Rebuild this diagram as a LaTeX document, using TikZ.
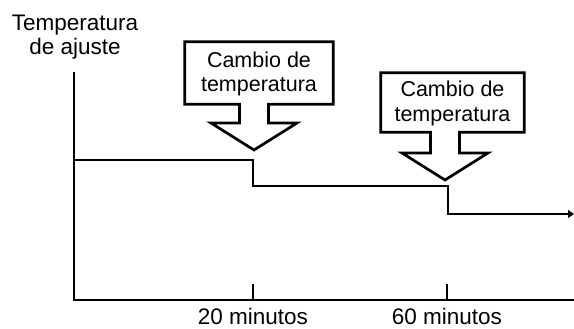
\documentclass[tikz,border=0pt]{standalone}
\usepackage{fontspec}
\setmainfont{Liberation Sans}
\usepackage{tikz}
\usetikzlibrary{positioning,arrows.meta,calc}
% box with a broad arrow below it: #1 box node, #2 tip
\newcommand{\callout}[2]{%
	\path ($(#2)+(-14.5pt,27pt)$) coordinate (#1-sl)
		($(#2)+(14.5pt,27pt)$) coordinate (#1-sr)
		($(#2)+(-43pt,27pt)$) coordinate (#1-hl)
		($(#2)+(43pt,27pt)$) coordinate (#1-hr);
	\draw[callline] (#1.south west) -- (#1.north west) -- (#1.north east)
		-- (#1.south east) -- (#1.south east -| #1-sr) -- (#1-sr) -- (#1-hr)
		-- (#2) -- (#1-hl) -- (#1-sl) -- (#1.south west -| #1-sl) -- cycle;
}

\begin{document}
\begin{tikzpicture}[
		x=1pt, y=1pt,
		font=\fontsize{22.5}{24}\selectfont,
		lbl/.style={align=center, inner sep=0pt},
		box/.style={inner sep=0pt},
		boxtext/.style={align=center, inner sep=0pt, anchor=base,
				font=\fontsize{21.5}{24.5}\selectfont},
		callline/.style={line width=2.7pt},
		axis/.style={line width=2pt},
		lvl/.style={line width=1.2pt, -{Triangle[length=6pt, width=8pt]}}
		]
		\useasboundingbox (0,0) rectangle (574,329);
		% axes
		\coordinate (top) at (74,257);
		\coordinate (orig) at (74,29);
		\coordinate (xend) at (574,29);
		\draw[axis] (top) -- (orig) -- (xend);
		\coordinate (t20) at (253,29);
		\coordinate (t60) at (447,29);
		\draw[axis] (t20) -- ++(0,16);
		\draw[axis] (t60) -- ++(0,16);
		\node[lbl, anchor=base] (l20) at ([yshift=-24.5pt]t20) {20 minutos};
		\node[lbl, anchor=base] (l60) at ([yshift=-24.5pt]t60) {60 minutos};
		\node[lbl, anchor=base] (ylab) at (75,274.7) {Temperatura\\de ajuste};
		% set temperature
		\coordinate (s0) at (74,169);
		\coordinate (s1) at (253,169);
		\coordinate (s2) at (253,143);
		\coordinate (s3) at (448,143);
		\coordinate (s4) at (448,115);
		\coordinate (s5) at (574,115);
		\draw[lvl] (s0) -- (s1) -- (s2) -- (s3) -- (s4) -- (s5);
		% changes
		\node[box, minimum width=148pt, minimum height=62pt] (chg1) at (259,256) {};
		\node[boxtext] (txt1) at (259,237) {Cambio de\\temperatura};
		\coordinate (tip1) at (254,179);
		\callout{chg1}{tip1}
		\node[box, minimum width=143pt, minimum height=59pt] (chg2) at (452.5,226.5) {};
		\node[boxtext] (txt2) at (452.5,207.5) {Cambio de\\temperatura};
		\coordinate (tip2) at (445,149);
		\callout{chg2}{tip2}
	\end{tikzpicture}
\end{document}
